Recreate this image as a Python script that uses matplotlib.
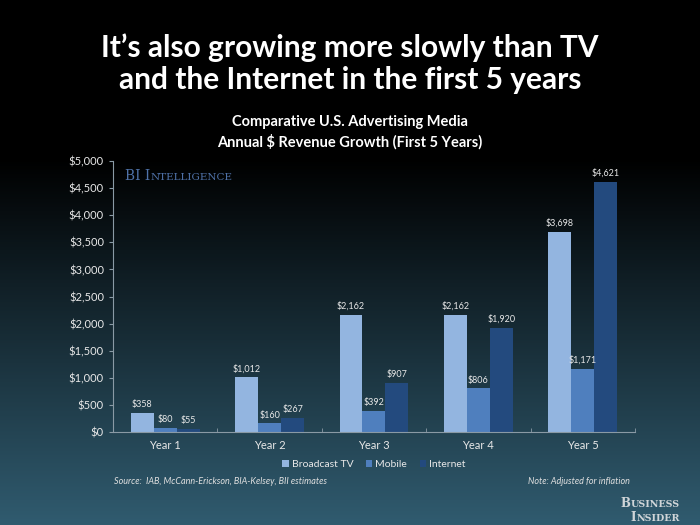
import numpy as np
import matplotlib
matplotlib.use("Agg")
import matplotlib.pyplot as plt
from matplotlib.colors import LinearSegmentedColormap

years = ["Year 1", "Year 2", "Year 3", "Year 4", "Year 5"]
broadcast_tv = [358, 1012, 2162, 2162, 3698]
mobile = [80, 160, 392, 806, 1171]
internet = [55, 267, 907, 1920, 4621]
series_names = ["Broadcast TV", "Mobile", "Internet"]
colors = ["#93b5e0", "#4f7fbe", "#234a7e"]

plt.rcParams['font.family'] = ['Lato', 'DejaVu Sans']

fig = plt.figure(figsize=(7, 5.25), dpi=100)
renderer = fig.canvas.get_renderer()


def small_caps(x, y, parts, big, small, color, ha="left", weight="normal"):
    # draw text in fake small caps: parts is list of (text, is_big)
    inv = fig.transFigure.inverted()
    pieces = []
    total = 0
    for s, is_big in parts:
        t = fig.text(0, y, s, fontsize=big if is_big else small, family="DejaVu Serif",
                     color=color, va="baseline", fontweight=weight)
        bb = t.get_window_extent(renderer)
        pieces.append((t, bb.width))
        total += bb.width
    px = fig.transFigure.transform((x, y))[0]
    if ha == "right":
        px -= total
    for t, wpx in pieces:
        t.set_x(inv.transform((px, 0))[0])
        px += wpx


# background gradient: black at top, dark teal at bottom
bg = fig.add_axes([0, 0, 1, 1], zorder=-1)
t = np.linspace(0, 1, 256)
ramp = np.clip((t - 0.3) / 0.7, 0, 1) ** 1.0
grad = ramp[:, None] * np.ones((256, 2))
cmap = LinearSegmentedColormap.from_list("bg", ["#000000", "#305b6f"])
bg.imshow(grad, aspect="auto", cmap=cmap, extent=[0, 1, 0, 1], origin="upper", vmin=0, vmax=1)
bg.axis("off")

ax = fig.add_axes([0.1614, 0.1771, 0.7457, 0.5162])
ax.set_facecolor("none")

x = np.arange(len(years))
w = 0.22
for i, (vals, name, c) in enumerate(zip([broadcast_tv, mobile, internet], series_names, colors)):
    bars = ax.bar(x + (i - 1) * w, vals, w, color=c, label=name)
    for b, v in zip(bars, vals):
        ax.text(b.get_x() + b.get_width() / 2, v + 70, f"${v:,}", ha="center", va="bottom",
                fontsize=6.5, color="#e8e8e8")

ax.set_xlim(-0.5, 4.5)
ax.set_ylim(0, 5000)
ax.set_yticks(np.arange(0, 5001, 500))
ax.set_yticklabels([f"${v:,}" for v in range(0, 5001, 500)])
ax.set_xticks(x)
ax.set_xticklabels(years)
ax.set_xticks(np.arange(-0.5, 4.6, 1), minor=True)
ax.tick_params(axis="x", which="major", length=0, colors="#e8e8e8", labelsize=8, pad=6)
ax.tick_params(axis="x", which="minor", length=3, color="#8a9aa5", direction="in")
ax.tick_params(axis="y", length=3, color="#8a9aa5", labelcolor="#e8e8e8", labelsize=8)
for s in ["top", "right"]:
    ax.spines[s].set_visible(False)
for s in ["left", "bottom"]:
    ax.spines[s].set_color("#8a9aa5")
    ax.spines[s].set_linewidth(0.8)

small_caps(0.179, 0.657, [("BI I", True), ("NTELLIGENCE", False)], 10, 7.5, "#4f72a8")

leg = ax.legend(loc="upper center", bbox_to_anchor=(0.5, -0.07), ncol=3, frameon=False,
                fontsize=7.5, handlelength=0.6, handleheight=0.6, handletextpad=0.3,
                columnspacing=1.2, labelcolor="#e8e8e8")

fig.text(0.5, 0.91, "It\u2019s also growing more slowly than TV", ha="center", va="center",
         fontsize=21.5, fontweight="bold", color="white")
fig.text(0.5, 0.847, "and the Internet in the first 5 years", ha="center", va="center",
         fontsize=21.5, fontweight="bold", color="white")
fig.text(0.5, 0.768, "Comparative U.S. Advertising Media", ha="center", va="center",
         fontsize=10.5, fontweight="bold", color="white")
fig.text(0.5, 0.73, "Annual $ Revenue Growth (First 5 Years)", ha="center", va="center",
         fontsize=10.5, fontweight="bold", color="white")

fig.text(0.163, 0.083, "Source:  IAB, McCann-Erickson, BIA-Kelsey, BII estimates", fontsize=6.5,
         style="italic", color="#e0e0e0", va="center")
fig.text(0.9, 0.083, "Note: Adjusted for inflation", fontsize=6.5, style="italic",
         color="#e0e0e0", va="center", ha="right")
small_caps(0.971, 0.034, [("B", True), ("USINESS", False)], 8.5, 6.8, "#d0d5d8", ha="right",
           weight="bold")
small_caps(0.971, 0.008, [("I", True), ("NSIDER", False)], 8.5, 6.8, "#d0d5d8", ha="right",
           weight="bold")

fig.savefig("out.png", dpi=100)
